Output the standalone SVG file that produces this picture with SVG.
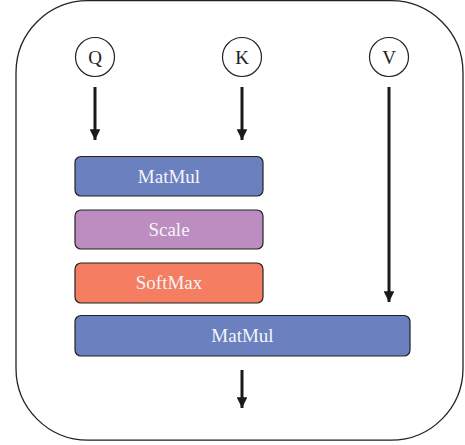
<svg xmlns="http://www.w3.org/2000/svg" width="465" height="445" viewBox="0 0 465 445">
<style>
.frame{fill:none;stroke:#222;stroke-width:1.3}
.io circle{fill:#fff;stroke:#222;stroke-width:1.2}
.io text{font-family:"Liberation Serif",serif;font-size:19px;fill:#222;text-anchor:middle}
.box rect{stroke:#222;stroke-width:1.2}
.box text{font-family:"Liberation Serif",serif;font-size:19px;fill:#f4f4f8;text-anchor:middle}
.edge{stroke:#1a1a1a;stroke-width:3;fill:none;marker-end:url(#ah)}
</style>
<defs>
<marker id="ah" viewBox="0 0 10 10" refX="10" refY="5" markerWidth="3.6" markerHeight="3.6" orient="auto" markerUnits="strokeWidth">
<path d="M0,0 L10,5 L0,10 z" fill="#1a1a1a"/>
</marker>
</defs>
<rect class="frame" x="16" y="0.7" width="447" height="439.5" rx="72" ry="72"/>
<g id="Q" class="io"><circle cx="95" cy="57" r="19.5"/><text x="95" y="63.5">Q</text></g>
<g id="K" class="io"><circle cx="242" cy="57" r="19.5"/><text x="242" y="63.5">K</text></g>
<g id="V" class="io"><circle cx="389" cy="57" r="19.5"/><text x="389" y="63.5">V</text></g>
<g id="matmul1" class="box"><rect x="75" y="156.5" width="188" height="39.5" rx="6" fill="#6b80bf"/><text x="169" y="182.5">MatMul</text></g>
<g id="scale" class="box"><rect x="75" y="210" width="188" height="39" rx="6" fill="#bd8cc0"/><text x="169" y="236">Scale</text></g>
<g id="softmax" class="box"><rect x="75" y="263" width="188" height="40" rx="6" fill="#f47d62"/><text x="169" y="289">SoftMax</text></g>
<g id="matmul2" class="box"><rect x="75" y="315.5" width="335" height="40.5" rx="6" fill="#6b80bf"/><text x="242.5" y="342">MatMul</text></g>
<g id="connectors">
<line class="edge" x1="95" y1="87" x2="95" y2="140"/>
<line class="edge" x1="242" y1="87" x2="242" y2="140"/>
<line class="edge" x1="389" y1="87" x2="389" y2="302"/>
<line class="edge" x1="242" y1="370" x2="242" y2="408"/>
</g>
</svg>
